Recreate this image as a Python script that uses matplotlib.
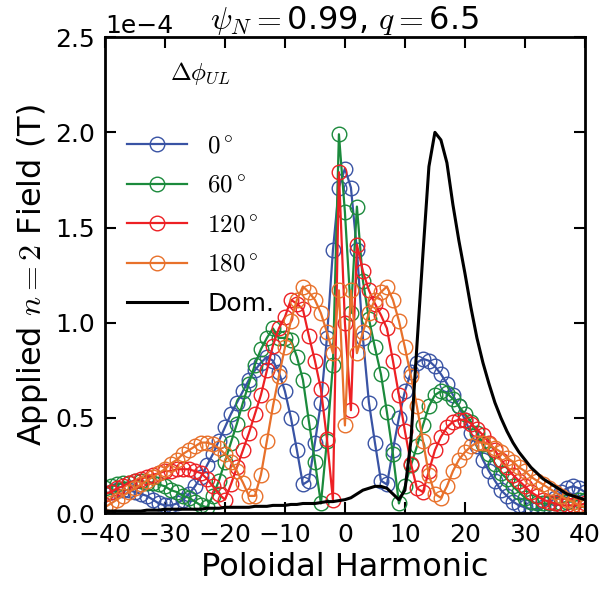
import numpy as np
import matplotlib
matplotlib.use("Agg")
import matplotlib.pyplot as plt

plt.rcParams['mathtext.fontset'] = 'cm'
plt.rcParams['font.family'] = ['DejaVu Sans']

harmonics = np.arange(-40, 41)

# values in units of 1e-4 T
field_0 = [0.10, 0.11, 0.12, 0.12, 0.12, 0.11, 0.10, 0.09, 0.07, 0.05,
           0.04, 0.04, 0.05, 0.07, 0.10, 0.14, 0.19, 0.25, 0.31, 0.38,
           0.45, 0.52, 0.58, 0.64, 0.70, 0.75, 0.79, 0.82, 0.80, 0.74,
           0.64, 0.50, 0.33, 0.15, 0.17, 0.37, 0.58, 0.92, 1.38, 1.71,
           1.81,
           1.71, 1.38, 0.92, 0.58, 0.37, 0.17, 0.15, 0.33, 0.50, 0.64,
           0.74, 0.79, 0.81, 0.80, 0.77, 0.73, 0.68, 0.62, 0.56, 0.49,
           0.42, 0.35, 0.28, 0.22, 0.17, 0.12, 0.09, 0.06, 0.04, 0.03,
           0.02, 0.02, 0.03, 0.05, 0.08, 0.11, 0.13, 0.14, 0.13, 0.11]

field_60 = [0.13, 0.14, 0.15, 0.16, 0.16, 0.17, 0.17, 0.16, 0.16, 0.15,
            0.14, 0.12, 0.11, 0.09, 0.08, 0.06, 0.04, 0.03, 0.09, 0.17,
            0.27, 0.37, 0.47, 0.58, 0.68, 0.78, 0.86, 0.92, 0.97, 0.92,
            0.92, 0.91, 0.82, 0.70, 0.48, 0.27, 0.05, 0.38, 0.78, 1.99,
            1.58,
            1.05, 1.61, 1.22, 1.02, 0.87, 0.73, 0.53, 0.31, 0.05, 0.14,
            0.25, 0.35, 0.46, 0.56, 0.62, 0.64, 0.63, 0.60, 0.56, 0.52,
            0.48, 0.42, 0.36, 0.31, 0.26, 0.21, 0.18, 0.14, 0.11, 0.08,
            0.06, 0.05, 0.05, 0.05, 0.05, 0.05, 0.06, 0.06, 0.07, 0.07]

field_120 = [0.10, 0.11, 0.13, 0.14, 0.16, 0.17, 0.18, 0.19, 0.20, 0.21,
             0.22, 0.22, 0.23, 0.23, 0.23, 0.22, 0.21, 0.18, 0.14, 0.10,
             0.07, 0.15, 0.24, 0.33, 0.42, 0.52, 0.62, 0.75, 0.88, 0.97,
             1.03, 1.12, 1.10, 1.07, 0.93, 0.80, 0.65, 0.39, 0.07, 1.79,
             1.00,
             0.54, 1.41, 1.27, 1.17, 1.10, 1.04, 0.97, 0.80, 0.62, 0.43,
             0.26, 0.13, 0.11, 0.22, 0.33, 0.40, 0.45, 0.48, 0.49, 0.49,
             0.47, 0.44, 0.41, 0.37, 0.33, 0.28, 0.24, 0.20, 0.17, 0.14,
             0.11, 0.09, 0.07, 0.06, 0.05, 0.04, 0.04, 0.04, 0.04, 0.05]

field_180 = [0.03, 0.05, 0.07, 0.09, 0.11, 0.13, 0.15, 0.17, 0.19, 0.21,
             0.23, 0.26, 0.28, 0.31, 0.33, 0.35, 0.37, 0.37, 0.36, 0.34,
             0.31, 0.27, 0.22, 0.16, 0.09, 0.09, 0.20, 0.38, 0.56, 0.72,
             0.87, 1.01, 1.12, 1.19, 1.16, 1.12, 1.05, 0.95, 0.84, 1.17,
             0.46,
             1.17, 0.84, 0.95, 1.05, 1.12, 1.16, 1.19, 1.12, 1.01, 0.87,
             0.72, 0.56, 0.38, 0.20, 0.10, 0.08, 0.14, 0.22, 0.28, 0.32,
             0.35, 0.37, 0.37, 0.36, 0.34, 0.32, 0.29, 0.27, 0.24, 0.22,
             0.19, 0.17, 0.15, 0.13, 0.11, 0.09, 0.07, 0.06, 0.04, 0.03]

field_dom = [0.010, 0.010, 0.010, 0.010, 0.010, 0.010, 0.010, 0.015, 0.015, 0.015,
             0.020, 0.020, 0.020, 0.020, 0.020, 0.020, 0.020, 0.025, 0.025, 0.025,
             0.030, 0.030, 0.030, 0.030, 0.030, 0.035, 0.035, 0.035, 0.040, 0.040,
             0.040, 0.045, 0.045, 0.050, 0.050, 0.050, 0.055, 0.060, 0.060, 0.065,
             0.070,
             0.080, 0.100, 0.120, 0.130, 0.140, 0.140, 0.130, 0.100, 0.070, 0.120,
             0.380, 0.880, 1.360, 1.820, 2.000, 1.960, 1.840, 1.620, 1.430, 1.260,
             1.080, 0.920, 0.790, 0.680, 0.580, 0.500, 0.430, 0.370, 0.320, 0.280,
             0.240, 0.210, 0.180, 0.160, 0.140, 0.120, 0.100, 0.090, 0.080, 0.070]

series = [(field_0, r"$0^\circ$", "#3953a4"),
          (field_60, r"$60^\circ$", "#1b8a3c"),
          (field_120, r"$120^\circ$", "#ed2024"),
          (field_180, r"$180^\circ$", "#e8712b")]

fig = plt.figure(figsize=(6.03, 5.90), dpi=100)
ax = fig.add_axes([0.174, 0.1305, 0.796, 0.8065])

for vals, lab, col in series:
    ax.plot(harmonics, np.array(vals) * 1e-4, color=col, lw=1.6,
            marker='o', ms=10.5, mfc='none', mec=col, mew=1.0, label=lab)
ax.plot(harmonics, np.array(field_dom) * 1e-4, color='black', lw=2.2, label='Dom.')

ax.set_xlim(-40, 40)
ax.set_ylim(0, 2.5e-4)
ax.set_xticks(np.arange(-40, 41, 10))
ax.set_yticks(np.arange(0, 2.51e-4, 0.5e-4))
ax.ticklabel_format(axis='y', style='sci', scilimits=(0, 0))
ax.yaxis.get_offset_text().set_fontsize(18)

ax.tick_params(direction='in', length=8, width=1.5, labelsize=18,
               top=True, right=True, pad=7)
for sp in ax.spines.values():
    sp.set_linewidth(2)

ax.set_xlabel("Poloidal Harmonic", fontsize=23)
ax.set_ylabel(r"Applied $n=2$ Field (T)", fontsize=23)
ax.set_title(r"$\psi_N=$0.99, $q=$6.5", fontsize=23)

leg = ax.legend(loc='upper left', frameon=False, fontsize=18, numpoints=1,
                title=r"$\Delta\phi_{UL}$", title_fontsize=18,
                handlelength=2.4, labelspacing=0.62)
leg._legend_box.sep = 34

fig.savefig("out.png", dpi=100)
